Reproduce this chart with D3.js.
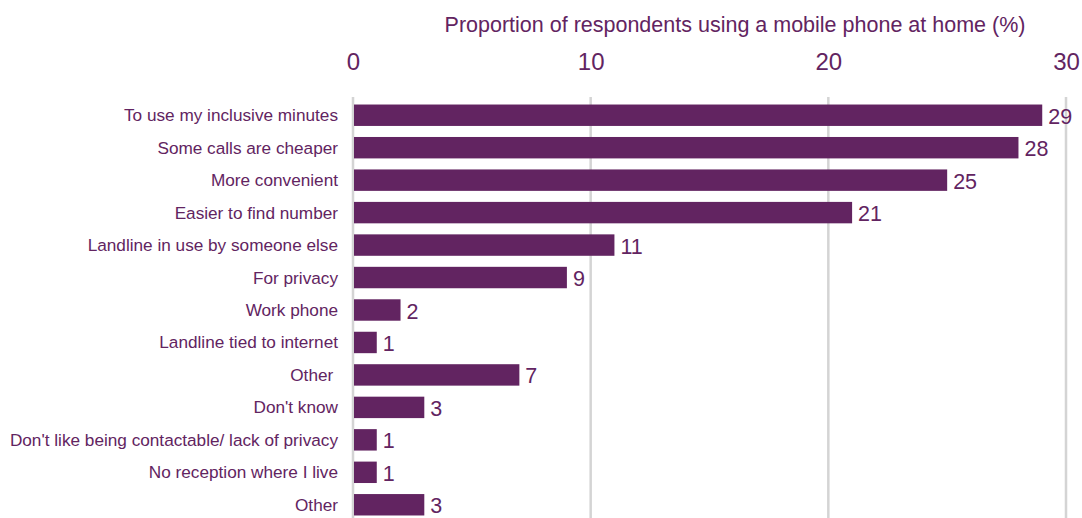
<!DOCTYPE html>
<html>
<head>
<meta charset="utf-8">
<script src="https://cdn.jsdelivr.net/npm/d3@7"></script>
<style>
  body { margin: 0; background: #fff; }
  text { font-family: "Liberation Sans", Arial, sans-serif; fill: #622461; }
</style>
</head>
<body>
<div id="chart"></div>
<script>
const reasons = [
  'To use my inclusive minutes',
  'Some calls are cheaper',
  'More convenient',
  'Easier to find number',
  'Landline in use by someone else',
  'For privacy',
  'Work phone',
  'Landline tied to internet',
  'Other\u00a0',
  "Don't know",
  "Don't like being contactable/ lack of privacy",
  'No reception where I live',
  'Other'
];
const percents = [29, 28, 25, 21, 11, 9, 2, 1, 7, 3, 1, 1, 3];
const xTicks = [0, 10, 20, 30];
const axisTitle = 'Proportion of respondents using a mobile phone at home (%)';

const width = 1082, height = 518;
const barColor = '#622461';

const svg = d3.select('#chart').append('svg')
        .attr('width', width)
        .attr('height', height);

const x = d3.scaleLinear().domain([0, 30]).range([353, 1066]);
const y = d3.scaleBand().domain(d3.range(reasons.length)).range([99, 521]).paddingInner(0.34).paddingOuter(0.17);

// gridlines
svg.append('g').selectAll('line')
        .data(xTicks)
        .join('line')
        .attr('x1', d => x(d)).attr('x2', d => x(d))
        .attr('y1', 97).attr('y2', height)
        .attr('stroke', '#d4d4d4')
        .attr('stroke-width', 2.5);

// top axis labels
const axis = svg.append('g')
        .attr('transform', 'translate(0,70)')
        .call(d3.axisTop(x).tickValues(xTicks).tickSize(0).tickPadding(0));
axis.select('.domain').remove();
axis.selectAll('text')
        .attr('font-size', 24)
        .style('font-family', '"Liberation Sans", Arial, sans-serif')
        .attr('fill', barColor);

svg.append('text')
        .attr('x', 735).attr('y', 32)
        .attr('text-anchor', 'middle')
        .attr('font-size', 21.5)
        .text(axisTitle);

// bars
svg.append('g').selectAll('rect')
        .data(percents)
        .join('rect')
        .attr('x', x(0) + 1)
        .attr('y', (d, i) => y(i))
        .attr('width', d => x(d) - x(0) - 1)
        .attr('height', y.bandwidth())
        .attr('fill', barColor);

// value labels
svg.append('g').selectAll('text')
        .data(percents)
        .join('text')
        .attr('x', d => x(d) + 6)
        .attr('y', (d, i) => y(i) + y.bandwidth() / 2 + 8.5)
        .attr('font-size', 21.5)
        .text(d => d);

// category labels
svg.append('g').selectAll('text')
        .data(reasons)
        .join('text')
        .attr('x', 338)
        .attr('y', (d, i) => y(i) + y.bandwidth() / 2 + 6)
        .attr('text-anchor', 'end')
        .attr('font-size', 17.2)
        .style('white-space', 'pre')
        .text(d => d);
</script>
</body>
</html>
